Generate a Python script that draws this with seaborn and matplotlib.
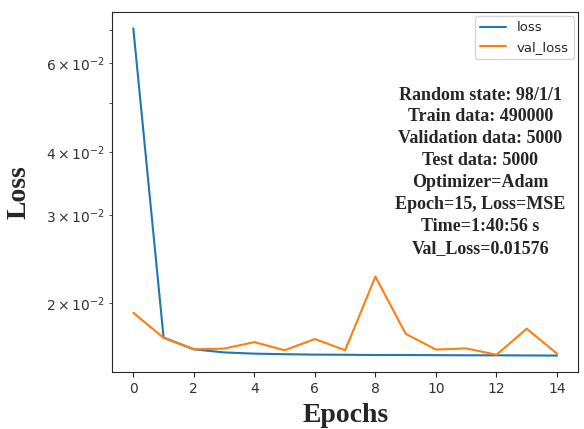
import matplotlib
matplotlib.use("Agg")
import matplotlib.pyplot as plt
import seaborn as sns
import pandas as pd

# training history
epochs = list(range(15))
loss = [0.0704, 0.01712, 0.01622, 0.01599, 0.0159, 0.01586, 0.01583, 0.01582,
        0.0158, 0.0158, 0.01579, 0.01578, 0.01578, 0.01577, 0.01576]
val_loss = [0.01917, 0.01709, 0.01622, 0.01627, 0.01676, 0.01615, 0.01700, 0.01615,
            0.02262, 0.01741, 0.0162, 0.01629, 0.01582, 0.01782, 0.0159]

info_lines = [
    "Random state: 98/1/1",
    "Train data: 490000",
    "Validation data: 5000",
    "Test data: 5000",
    "Optimizer=Adam",
    "Epoch=15, Loss=MSE",
    "Time=1:40:56 s",
    "Val_Loss=0.01576",
]

df = pd.DataFrame({"epoch": epochs + epochs,
                   "value": loss + val_loss,
                   "series": ["loss"] * len(loss) + ["val_loss"] * len(val_loss)})

sns.set_style("ticks")
fig = plt.figure(figsize=(5.84, 4.29), dpi=100)
ax = fig.add_axes([0.192, 0.133, 0.798, 0.839])

sns.lineplot(data=df, x="epoch", y="value", hue="series",
             palette=["#1f77b4", "#ff7f0e"], linewidth=1.5, ax=ax)
ax.set_yscale("log")
ax.set_xticks(range(0, 15, 2))
ax.tick_params(labelsize=10, labelcolor="#333333")
ax.tick_params(axis="y", which="minor", labelsize=10, labelcolor="#333333")

serif = ["Liberation Serif", "DejaVu Serif"]
ax.set_xlabel("Epochs", fontsize=20, fontweight="bold", family=serif, labelpad=5)
ax.set_ylabel("Loss", fontsize=20, fontweight="bold", family=serif, labelpad=10)

leg = ax.legend(loc="upper right", fontsize=9.5, borderaxespad=0.3)
leg.set_title(None)

ax.text(0.79, 0.556, "\n".join(info_lines), transform=ax.transAxes,
        ha="center", va="center", multialignment="center",
        fontsize=13, fontweight="bold", family=serif, linespacing=1.38)

fig.savefig("out.png", dpi=100)
